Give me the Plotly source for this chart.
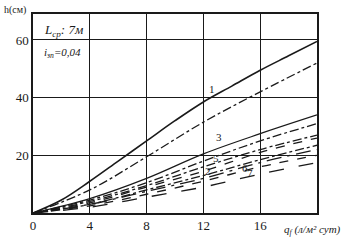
import plotly.graph_objects as go

x_vals = [0, 2, 4, 6, 8, 10, 12, 14, 16, 18, 20]
curve_1 = [0, 4.5, 11, 18, 25, 32, 38.5, 44, 49.5, 54.5, 59.5]
x_lin = [0, 4, 8, 12, 16, 20]
curve_2 = [0, 8, 19.5, 31.5, 42, 52]
curve_3 = [0, 5, 12, 20.5, 27.5, 34]
curve_3b = [0, 4.5, 10.5, 18, 25, 31]
curve_4 = [0, 4, 9.5, 16, 22, 27]
curve_5 = [0, 3.5, 9, 14.5, 21, 26]
curve_6 = [0, 3, 8, 13, 18.5, 23.5]
curve_7 = [0, 3, 7.5, 12, 17.5, 22]
curve_8 = [0, 2.5, 6.5, 11, 16, 20]
curve_9 = [0, 2, 5.5, 9, 13.5, 17.5]

x_ticks = [0, 4, 8, 12, 16]
x_tick_text = ["0", "4", "8", "12", "16"]
y_ticks = [20, 40, 60]
y_tick_text = ["20", "40", "60"]

ink = "#1a1a1a"
fig = go.Figure()

def add(xs, ys, dash, width=1.3):
    fig.add_trace(go.Scatter(x=xs, y=ys, mode="lines",
                             line=dict(color=ink, width=width, dash=dash, shape="spline"),
                             showlegend=False, hoverinfo="skip"))

add(x_vals, curve_1, "solid", 1.6)
add(x_lin, curve_2, "dashdot")
add(x_lin, curve_3, "solid", 1.2)
add(x_lin, curve_3b, "dashdot")
add(x_lin, curve_4, "dashdot")
add(x_lin, curve_5, "dash")
add(x_lin, curve_6, "dashdot")
add(x_lin, curve_7, "longdashdot")
add(x_lin, curve_8, "dash")
add(x_lin, curve_9, "longdash")

font = dict(family="Liberation Serif", size=13, color=ink)

labels = [("1", 12.6, 43), ("3", 13.1, 26.5), ("5", 12.9, 19), ("2", 12.3, 14.5), ("6", 14.9, 15.5), ("7", 15.3, 14)]
for t, lx, ly in labels:
    fig.add_annotation(x=lx, y=ly, text=t, showarrow=False, font=dict(family="Liberation Serif", size=11, color=ink))

fig.add_annotation(xref="paper", yref="paper", x=0.03, y=0.97, xanchor="left", yanchor="top",
                   text="<i>L<sub>ср</sub>: 7м</i>", showarrow=False, font=font)
fig.add_annotation(xref="paper", yref="paper", x=0.03, y=0.85, xanchor="left", yanchor="top",
                   text="<i>i<sub>зп</sub>=0,04</i>", showarrow=False,
                   font=dict(family="Liberation Serif", size=11, color=ink))
fig.add_annotation(xref="paper", yref="paper", x=-0.11, y=1.06, xanchor="left", yanchor="top",
                   text="h(см)", showarrow=False,
                   font=dict(family="Liberation Serif", size=10, color=ink))
fig.add_annotation(xref="paper", yref="paper", x=1.09, y=-0.04, xanchor="right", yanchor="top",
                   text="<i>q<sub>f</sub> (л/м² сут)</i>", showarrow=False,
                   font=dict(family="Liberation Serif", size=11, color=ink))

fig.update_layout(
    width=345, height=246,
    margin=dict(l=33, r=28, t=14, b=33),
    paper_bgcolor="white", plot_bgcolor="white",
    font=font,
)
fig.update_xaxes(range=[0, 20], tickvals=x_ticks, ticktext=x_tick_text,
                 showgrid=True, gridcolor=ink, gridwidth=1,
                 showline=True, linecolor=ink, linewidth=1.5, mirror=True,
                 zeroline=False, ticks="", tickfont=dict(family="Liberation Serif", size=13, color=ink))
fig.update_yaxes(range=[0, 69], tickvals=y_ticks, ticktext=y_tick_text,
                 showgrid=True, gridcolor=ink, gridwidth=1,
                 showline=True, linecolor=ink, linewidth=1.5, mirror=True,
                 zeroline=False, ticks="", tickfont=dict(family="Liberation Serif", size=13, color=ink))

fig.write_html("out.html")
